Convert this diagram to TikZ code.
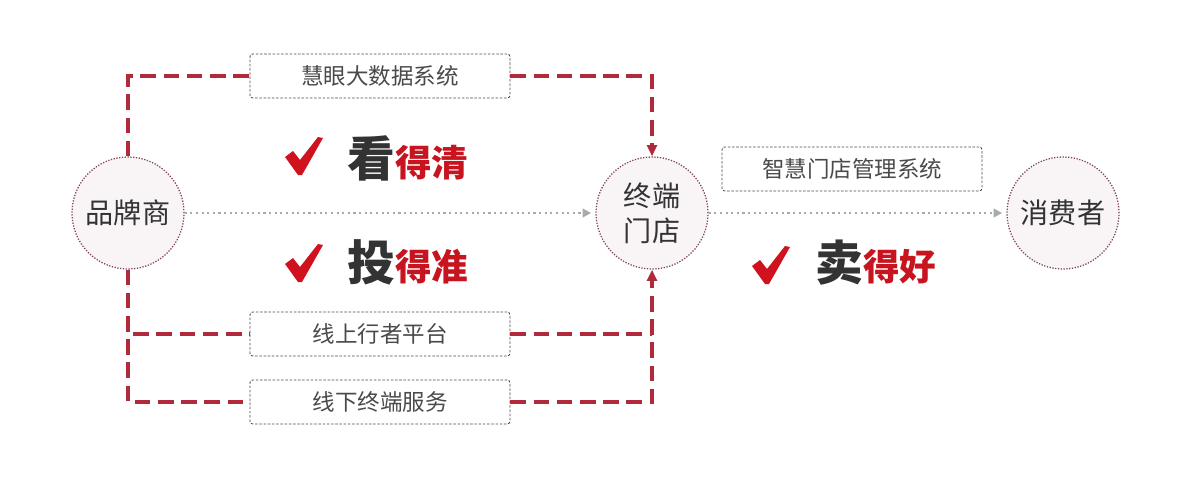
\documentclass[tikz,border=0pt]{standalone}
\usepackage{fontspec}
\newfontfamily\cjk{Noto Sans CJK SC}
\usetikzlibrary{arrows.meta}
\usetikzlibrary{backgrounds}
\definecolor{dashred}{HTML}{B02A3C}
\definecolor{tickred}{HTML}{D0121E}
\definecolor{wordred}{HTML}{C8141F}
\definecolor{inkgray}{HTML}{333333}
\definecolor{boxgray}{HTML}{4A4A4A}
\definecolor{ringfill}{HTML}{F9F5F6}
\definecolor{ringline}{HTML}{7E4650}
\definecolor{flowgray}{HTML}{AAAAAA}
\newcommand{\circsize}{2.8cm}
\newcommand{\tickmark}[1]{\fill[tickred,shift={#1}] (0,20) -- (8,14) -- (15,23) -- (33,0) -- (38,1) -- (17,38) -- (13,38) -- cycle;}
\newcommand{\slogan}[2]{{\fontsize{34}{34}\selectfont\bfseries\color{inkgray}#1}{\fontsize{26}{26}\selectfont\bfseries\color{wordred}#2}}

\begin{document}
\begin{tikzpicture}[x=0.025cm,y=-0.025cm,font=\cjk]
    \useasboundingbox[fill=white] (0,0) rectangle (1200,480);

    \begin{scope}[every node/.style={circle,draw=ringline,dash pattern=on 0.9pt off 1.1pt,line width=0.9pt,fill=ringfill,minimum size=\circsize,inner sep=0pt,text=inkgray,align=center,font=\cjk\fontsize{20}{25}\selectfont}]
        \node (brand) at (128,213) {品牌商};
        \node (store) at (652,213) {终端\\门店};
        \node (buyer) at (1063,213) {消费者};
    \end{scope}

    \begin{scope}[every node/.style={draw=boxgray,dash pattern=on 1.8pt off 1.2pt,line width=0.6pt,rounded corners=2pt,minimum width=6.5cm,minimum height=1.1cm,text=boxgray,font=\cjk\fontsize{16}{16}\selectfont}]
        \node (eyes) at (380,76) {慧眼大数据系统};
        \node (online) at (380,334) {线上行者平台};
        \node (offline) at (380,402) {线下终端服务};
        \node (manage) at (852,169) {智慧门店管理系统};
    \end{scope}

    \begin{scope}[>={Triangle[width=7pt,length=8pt]},
        every path/.style={draw=dashred,line width=2.3pt,dash pattern=on 11pt off 5.5pt}]
        \draw (brand.north) |- (eyes.west);
        \draw [->] (eyes.east) -| (store.north);
        \draw (brand.south) |- (online.west);
        \draw (online.east) -- (online.east -| store.south);
        \draw (brand.south) |- (offline.west);
        \draw [->] (offline.east) -| (store.south);
    \end{scope}

    \begin{scope}[>={Triangle[width=6pt,length=6pt,fill=flowgray]},
        every edge/.style={draw=flowgray,line width=1.5pt,dash pattern=on 1.5pt off 2.5pt,shorten >=3pt}]
        \path [->] (brand) edge node {} (store);
        \path [->] (store) edge node {} (buyer);
    \end{scope}

    \tickmark{(285,137)}
    \tickmark{(285,244)}
    \tickmark{(752,246)}
    \node [anchor=base west,inner sep=0pt] (see) at (347,176) {\slogan{看}{得清}};
    \node [anchor=base west,inner sep=0pt] (aim) at (347,280) {\slogan{投}{得准}};
    \node [anchor=base west,inner sep=0pt] (sell) at (815,280) {\slogan{卖}{得好}};
\end{tikzpicture}
\end{document}
